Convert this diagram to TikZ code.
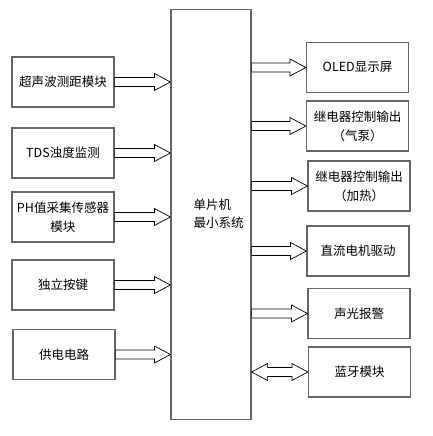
\documentclass[tikz,border=0pt]{standalone}
\usepackage{fontspec}
\setmainfont{Noto Sans CJK SC}
\usetikzlibrary{calc}
% fat open arrow from #1 to #2 (same height)
\def\fatarrow(#1)(#2){\draw[arr] let \p1=(#1), \p2=(#2) in
  (\x1,\y1+4.5pt) -- (\x2-16pt,\y1+4.5pt) -- (\x2-16pt,\y1+8.5pt) -- (\x2,\y1)
  -- (\x2-16pt,\y1-8.5pt) -- (\x2-16pt,\y1-4.5pt) -- (\x1,\y1-4.5pt) -- cycle;}
\def\fatdarrow(#1)(#2){\draw[arr] let \p1=(#1), \p2=(#2) in
  (\x1,\y1) -- (\x1+16pt,\y1+8.5pt) -- (\x1+16pt,\y1+4.5pt) -- (\x2-16pt,\y1+4.5pt)
  -- (\x2-16pt,\y1+8.5pt) -- (\x2,\y1) -- (\x2-16pt,\y1-8.5pt) -- (\x2-16pt,\y1-4.5pt)
  -- (\x1+16pt,\y1-4.5pt) -- (\x1+16pt,\y1-8.5pt) -- cycle;}

\begin{document}
\begin{tikzpicture}[x=1pt,y=-1pt,
  box/.style={draw=black!60,line width=1.2pt,minimum width=102pt,minimum height=50pt,
    inner sep=0pt,align=center,font=\fontsize{12.5}{19}\selectfont},
  arr/.style={draw=black,fill=white,line width=0.7pt}]
		\useasboundingbox (0,0) rectangle (432,436);
		%%%%% main unit %%%%%
		\node[draw=black!60,line width=1.2pt,minimum width=80pt,minimum height=410pt,inner sep=0pt]
		  (mcu) at (211,214.5) {};
		\node[align=left,anchor=west,font=\fontsize{12.5}{18}\selectfont] (mcutext) at (190,214)
		  {单片机\\最小系统};
		
		%%%%% inputs %%%%%
		\node[box] (sonic) at (63,82) {超声波测距模块};
		\node[box] (tds) at (63,153) {TDS浊度监测};
		\node[box] (ph) at (63,217) {PH值采集传感器\\模块};
		\node[box] (key) at (63,285) {独立按键};
		\node[box] (power) at (64,354.5) {供电电路};
		
		%%%%% outputs %%%%%
		\node[box] (oled) at (357.5,67.5) {OLED显示屏};
		\node[box] (relaya) at (357.5,126) {继电器控制输出\\（气泵）};
		\node[box] (relayb) at (359,186) {继电器控制输出\\（加热）};
		\node[box] (motor) at (358,251) {直流电机驱动};
		\node[box] (alarm) at (359,313.5) {声光报警};
		\node[box] (bt) at (359.5,372) {蓝牙模块};
		
		%%%%% connectors %%%%%
		\foreach \n in {sonic,tds,ph,key,power}{
		  \coordinate (from) at (\n.east);
		  \coordinate (to) at (mcu.west |- from);
		  \fatarrow(from)(to)}
		\foreach \n in {oled,relaya,relayb,motor,alarm}{
		  \coordinate (to) at (\n.west);
		  \coordinate (from) at (mcu.east |- to);
		  \fatarrow(from)(to)}
		\coordinate (btin) at (mcu.east |- bt.west);
		\fatdarrow(btin)(bt.west)
	\end{tikzpicture}
\end{document}
